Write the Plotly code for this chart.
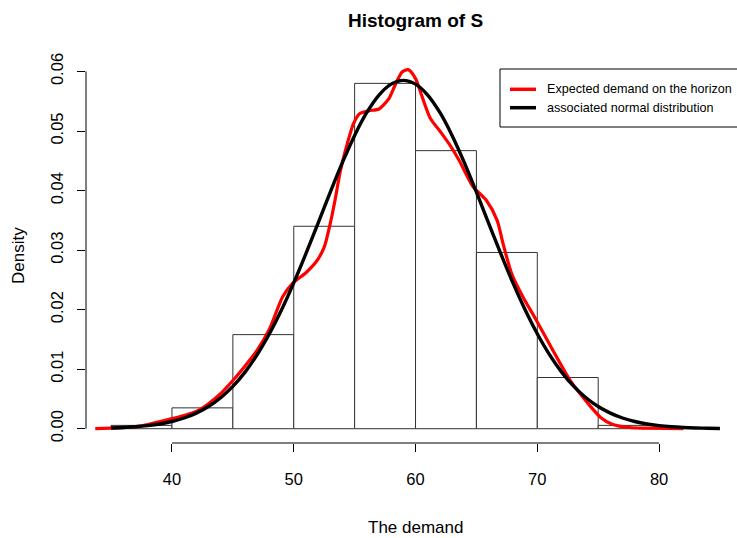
import plotly.graph_objects as go

# ---------------- data ----------------
bin_edges = [35, 40, 45, 50, 55, 60, 65, 70, 75, 80]
bin_density = [0.00056, 0.0035, 0.0158, 0.0340, 0.0580, 0.0467, 0.0296, 0.0086, 0.00056]

red_x = [33.7, 35.0, 36.2, 37.5, 38.4, 40.0, 41.0, 42.2, 43.0, 43.9, 45.0, 46.1, 47.0,
         48.0, 49.1, 50.0, 51.0, 51.9, 52.5, 53.0, 53.4, 53.8, 54.2, 54.9, 55.4, 56.2,
         57.0, 57.8, 58.3, 58.9, 59.4, 60.0, 60.5, 61.2, 62.0, 62.8, 63.6, 64.7, 65.8,
         66.7, 67.2, 67.9, 68.8, 69.9, 71.3, 72.7, 74.1, 75.2, 76.2, 77.6, 79.0, 82.0]
red_y = [0.0000, 0.0001, 0.0002, 0.0005, 0.0009, 0.0017, 0.0022, 0.0031, 0.0042, 0.0057,
         0.0081, 0.0108, 0.0132, 0.0167, 0.0222, 0.0246, 0.0262, 0.0282, 0.0305, 0.0345,
         0.0385, 0.0430, 0.0464, 0.0512, 0.0529, 0.0534, 0.0537, 0.0554, 0.0576, 0.0599,
         0.0603, 0.0588, 0.0560, 0.0522, 0.0500, 0.0477, 0.0450, 0.0407, 0.0384, 0.0350,
         0.0310, 0.0260, 0.0222, 0.0183, 0.0131, 0.0081, 0.0044, 0.0019, 0.0007, 0.0002,
         0.0001, 0.0000]

norm_x = [35, 36, 37, 38, 39, 40, 41, 42, 43, 44, 45, 46, 47, 48, 49, 50, 51, 52, 53,
          54, 55, 56, 57, 58, 59, 60, 61, 62, 63, 64, 65, 66, 67, 68, 69, 70, 71, 72,
          73, 74, 75, 76, 77, 78, 79, 80, 81, 82, 83, 84, 85]
norm_y = [0.00012, 0.00020, 0.00032, 0.00051, 0.00079, 0.00121, 0.00180, 0.00262,
          0.00373, 0.00521, 0.00711, 0.00951, 0.01244, 0.01594, 0.01997, 0.02449,
          0.02940, 0.03454, 0.03973, 0.04472, 0.04926, 0.05311, 0.05604, 0.05787,
          0.05850, 0.05787, 0.05604, 0.05311, 0.04926, 0.04472, 0.03973, 0.03454,
          0.02940, 0.02449, 0.01997, 0.01594, 0.01244, 0.00951, 0.00711, 0.00521,
          0.00373, 0.00262, 0.00180, 0.00121, 0.00079, 0.00051, 0.00032, 0.00020,
          0.00012, 0.00007, 0.00004]

x_ticks = [40, 50, 60, 70, 80]
y_ticks = [0.00, 0.01, 0.02, 0.03, 0.04, 0.05, 0.06]
y_tick_labels = ["0.00", "0.01", "0.02", "0.03", "0.04", "0.05", "0.06"]

title_text = "Histogram of S"
x_title = "The demand"
y_title = "Density"
legend_labels = ["Expected demand on the horizon", "associated normal distribution"]
legend_colors = ["#FF0000", "#000000"]

# ---------------- figure ----------------
FONT = "Liberation Sans, Arial, sans-serif"
W, H = 737, 538
ML, MR, MT, MB = 86, 0, 53, 95
PW, PH = W - ML - MR, H - MT - MB


def px_x(p):
    return (p - ML) / PW


def px_y(p):
    return (H - MB - p) / PH


centers = [(a + b) / 2 for a, b in zip(bin_edges[:-1], bin_edges[1:])]
widths = [b - a for a, b in zip(bin_edges[:-1], bin_edges[1:])]

fig = go.Figure()
fig.add_trace(go.Bar(x=centers, y=bin_density, width=widths,
                     marker=dict(color="white", line=dict(color="#333333", width=1)),
                     showlegend=False, hoverinfo="x+y"))
fig.add_trace(go.Scatter(x=red_x, y=red_y, mode="lines", name=legend_labels[0],
                         line=dict(color=legend_colors[0], width=3.2, shape="spline", smoothing=0.7),
                         showlegend=False))
fig.add_trace(go.Scatter(x=norm_x, y=norm_y, mode="lines", name=legend_labels[1],
                         line=dict(color=legend_colors[1], width=3.4, shape="spline"),
                         showlegend=False))

shapes = [
    # detached axis lines (R style)
    dict(type="line", xref="x", yref="paper", x0=x_ticks[0], x1=x_ticks[-1], y0=0, y1=0,
         line=dict(color="black", width=1)),
    dict(type="line", xref="paper", yref="y", x0=0, x1=0, y0=y_ticks[0], y1=y_ticks[-1],
         line=dict(color="black", width=1)),
    # legend box
    dict(type="rect", xref="paper", yref="paper", x0=px_x(500), x1=px_x(790),
         y0=px_y(127), y1=px_y(69), line=dict(color="black", width=1), fillcolor="white",
         layer="above"),
]
annotations = [
    dict(text="<b>%s</b>" % title_text, xref="paper", yref="paper", x=px_x(415), y=px_y(20),
         xanchor="center", yanchor="middle", showarrow=False,
         font=dict(family=FONT, size=19, color="black")),
    dict(text=x_title, xref="paper", yref="paper", x=px_x(415), y=px_y(527),
         xanchor="center", yanchor="middle", showarrow=False,
         font=dict(family=FONT, size=17, color="black")),
    dict(text=y_title, xref="paper", yref="paper", x=px_x(19), y=px_y(256),
         xanchor="center", yanchor="middle", showarrow=False, textangle=-90,
         font=dict(family=FONT, size=17, color="black")),
]
legend_rows = [89.3, 107.7]
for lab, col, py in zip(legend_labels, legend_colors, legend_rows):
    shapes.append(dict(type="line", xref="paper", yref="paper", x0=px_x(510), x1=px_x(536),
                       y0=px_y(py), y1=px_y(py), line=dict(color=col, width=3.5), layer="above"))
    annotations.append(dict(text=lab, xref="paper", yref="paper", x=px_x(545), y=px_y(py),
                            xanchor="left", yanchor="middle", showarrow=False,
                            font=dict(family=FONT, size=12.6, color="black")))

fig.update_layout(
    width=W, height=H,
    margin=dict(l=ML, r=MR, t=MT, b=MB, pad=0),
    paper_bgcolor="white", plot_bgcolor="white",
    showlegend=False,
    shapes=shapes, annotations=annotations,
    font=dict(family=FONT, color="black"),
)
fig.update_xaxes(range=[32.94, 86.4], tickvals=x_ticks, ticktext=[str(v) for v in x_ticks],
                 ticks="outside", ticklen=8, tickcolor="black", tickwidth=1,
                 showline=False, showgrid=False, zeroline=False,
                 tickfont=dict(family=FONT, size=16.5, color="black"), ticklabelstandoff=13)
fig.update_yaxes(range=[-0.0024, 0.0631], tickvals=y_ticks, ticktext=y_tick_labels,
                 ticks="outside", ticklen=8, tickcolor="black", tickwidth=1,
                 showline=False, showgrid=False, zeroline=False, tickangle=-90,
                 tickfont=dict(family=FONT, size=16.5, color="black"), ticklabelstandoff=7)

fig.write_html("out.html")
